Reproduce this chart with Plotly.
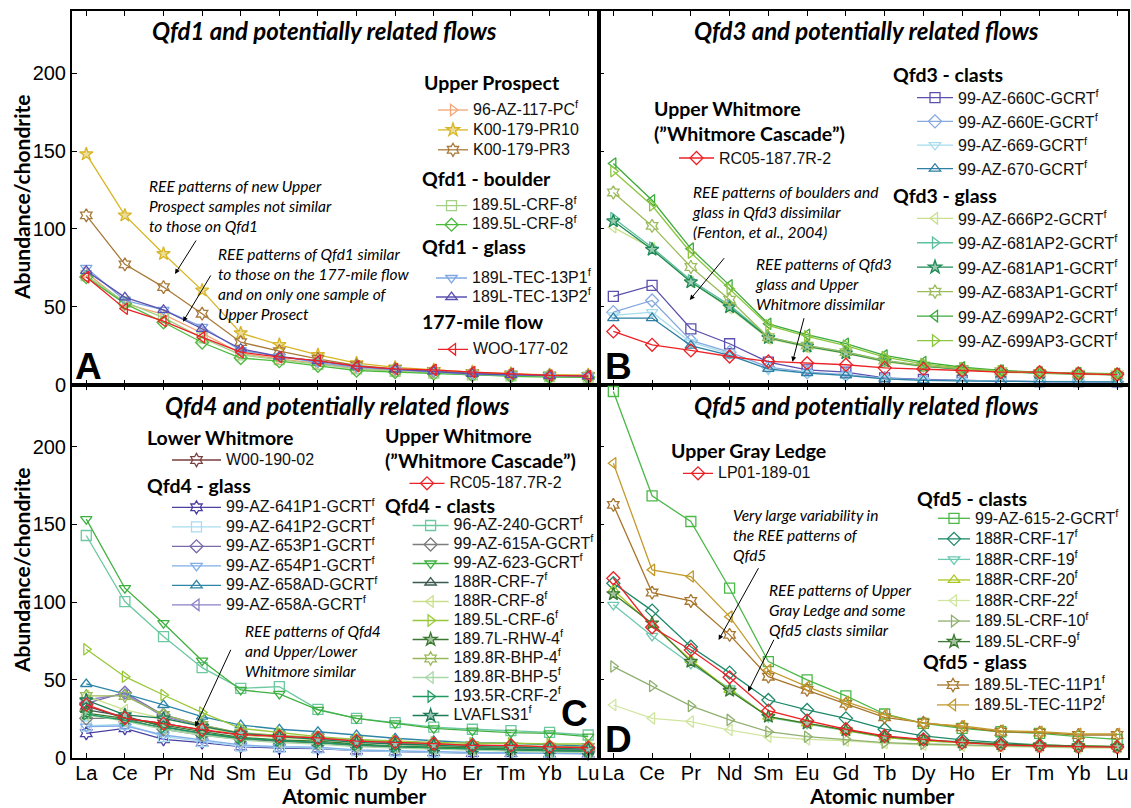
import plotly.graph_objects as go

W, H = 1131, 808

ELEMENTS = ["La", "Ce", "Pr", "Nd", "Sm", "Eu", "Gd", "Tb", "Dy", "Ho", "Er", "Tm", "Yb", "Lu"]
Y_TICKS = [0, 50, 100, 150, 200]

# ---- Qfd1 panel ----
AZ117_PC = [72, 52, 45, 33, 20, 16.5, 13.5, 10.5, 9, 7.8, 6.5, 6, 5.5, 5.5]
K00_PR10 = [148, 108.7, 84, 60.5, 33, 25.5, 19, 13.7, 11, 9.4, 8, 6.9, 6.2, 6.2]
K00_PR3 = [108.7, 77.2, 62.6, 45.5, 27.2, 21.4, 16.5, 12.2, 10, 8.6, 7.3, 6.5, 5.8, 5.5]
CRF8_A = [70, 53, 43, 30, 19, 16, 13, 10, 8.5, 7.3, 6.2, 5.5, 5, 4.8]
CRF8_B = [69, 52, 40, 27, 17, 15, 12, 9, 8, 7, 6, 5.3, 4.8, 4.6]
TEC13P1 = [75, 54, 48, 37, 22, 18, 14, 11, 9.5, 8, 6.6, 6, 5.5, 5.3]
TEC13P2 = [73, 56, 48, 35.8, 23, 18, 15, 11.6, 9.7, 8.4, 6.9, 6.2, 5.6, 5.4]
WOO_177 = [69, 48.7, 40.7, 30.4, 20.8, 17.6, 15.4, 11.8, 10, 9.4, 8, 6.9, 5.8, 5.4]

# ---- Qfd3 panel ----
RC05 = [34.1, 25.5, 21.9, 18, 14.8, 13.7, 12.7, 10.7, 10, 9, 7.9, 7.9, 6.9, 6.4]
AZ660C = [56.6, 63.7, 35.8, 26.2, 14.4, 9.4, 7.9, 4.3, 3.2, 2.6, 2.1, 1.9, 1.9, 1.7]
AZ660E = [46.5, 54, 28.3, 20.8, 11.1, 7.9, 6.4, 4.1, 3, 2.6, 2.1, 1.9, 1.9, 1.7]
AZ669 = [44.4, 46.5, 27.2, 19.7, 9.4, 7.3, 5.8, 3.6, 2.6, 2.1, 2, 2, 1.8, 1.8]
AZ670 = [42.7, 42.7, 25, 18.7, 10, 7.3, 5.8, 3.6, 2.6, 2.2, 2, 1.9, 1.8, 1.7]
AZ666P2 = [101, 87.5, 66, 49, 29.5, 24, 20, 14.6, 11.5, 9.5, 8, 7, 6.5, 6]
AZ681AP2 = [107, 88, 67, 51, 30.5, 25, 21, 15.5, 12, 10, 8.5, 7.4, 6.9, 6.4]
AZ681AP1 = [105, 86.7, 65.8, 49.7, 30, 24.5, 20.2, 15, 11.8, 9.7, 8.3, 7.3, 6.8, 6.2]
AZ683AP1 = [123.4, 101.9, 75.5, 54.5, 30.4, 25, 20.8, 15.4, 12.2, 10, 8.5, 7.5, 6.9, 6.4]
AZ699AP2 = [142, 118.4, 87.3, 63.7, 39, 32, 26.2, 18.7, 14.4, 11.1, 9, 7.9, 7.3, 6.9]
AZ699AP3 = [137, 115, 84.7, 61.6, 38, 31, 25, 17.6, 13.3, 10.5, 8.5, 7.7, 7.1, 6.7]

# ---- Qfd4 panel ----
W00_190 = [33.3, 25.3, 22.1, 17.8, 14.6, 13.5, 12.5, 10.9, 9.7, 8.8, 8, 7.5, 6.8, 6.8]
AZ641P1 = [15.7, 18.9, 11.8, 9.7, 7.1, 6.1, 5.8, 4.6, 4, 3.4, 3, 3, 2.6, 2.6]
AZ641P2 = [20.4, 21.5, 13.5, 10.3, 7.5, 6.8, 6.1, 4.6, 4, 3.4, 3, 3, 2.6, 2.6]
AZ653P1 = [35, 41.8, 27.5, 21, 15.7, 14, 12.5, 10.7, 8.8, 7.5, 6.8, 6.1, 5.5, 5]
AZ654P1 = [20, 20.4, 14.6, 11.4, 8.2, 7.1, 6.8, 5, 4.4, 3.6, 3.4, 3, 3, 2.6]
AZ658AD = [47.4, 41, 33.9, 26.4, 21, 18.3, 16.7, 14.6, 12.5, 10.9, 9.7, 9.3, 8.2, 7.5]
AZ658A = [37.1, 41, 26.4, 20.4, 15.7, 13.5, 12.5, 10.7, 8.8, 7.5, 6.8, 6.1, 5.5, 5]
AZ240 = [142.9, 100.4, 77.9, 57.9, 44.6, 45.7, 31.1, 25.3, 22.5, 19.6, 18.3, 17.4, 16.3, 14.6]
AZ615A = [25.3, 25.3, 18.3, 14.6, 11.8, 10.7, 9.3, 7.5, 6.8, 5.7, 5, 4.6, 4.2, 3.8]
AZ623 = [153.4, 109, 86.5, 62.4, 43.6, 41, 30.7, 25.3, 22.1, 18.9, 17.4, 16.1, 15.7, 13.5]
CRF7_188R = [30.7, 26.8, 20, 15.7, 12.5, 10.9, 9.7, 8.2, 7.1, 6.1, 5.5, 5, 4.6, 4]
CRF8_188R = [39.7, 30.7, 25.3, 20, 14.6, 13, 11.4, 9.9, 8.6, 7.5, 7.1, 6.8, 6.1, 5.9]
CRF6_1895L = [69.7, 52.1, 40.3, 29, 18.9, 16.1, 13.5, 11.8, 10.7, 9.9, 9.3, 9.3, 8.8, 8.8]
RHW4_1897L = [28.6, 25.3, 21, 16.7, 13.1, 11.4, 10.7, 8.8, 7.5, 6.8, 6.1, 5.5, 5, 4.6]
BHP4_1898R = [39.7, 39.7, 27.5, 21, 16, 14.6, 13.1, 11.4, 9.9, 8.8, 8.2, 7.5, 7.1, 6.8]
BHP5_1898R = [27.5, 23.5, 18.3, 14.6, 11.4, 9.7, 8.8, 7.1, 6.1, 5.5, 4.6, 4, 3.6, 3.4]
CRF2_1935R = [28, 24, 19.5, 15.7, 12.5, 10.9, 9.7, 8.2, 7.1, 6.3, 5.7, 5, 4.6, 4.2]
LVAFLS31 = [37, 27.5, 25.3, 20.1, 15.7, 13.5, 11.8, 9.9, 8.8, 8, 7.1, 6.8, 6.1, 5.5]

# ---- Qfd5 panel ----
LP01_189 = [115.4, 83.9, 69.3, 51.7, 30.2, 23.8, 18.3, 14, 11.8, 9.7, 8.2, 7.5, 7.1, 6.8]
AZ615_2 = [235.5, 168.4, 151.9, 109, 61.8, 50, 39.7, 28.1, 22.1, 18.9, 16.7, 15.7, 13.5, 11.8]
CRF17_188R = [112.2, 94.6, 71.4, 54.7, 37.1, 30.7, 25.3, 18.3, 14, 11.4, 9.7, 8.2, 7.5, 7.1]
CRF19_188R = [98.3, 78.3, 60.3, 44.6, 26, 21.7, 17.4, 13.1, 10.9, 9.7, 8.6, 8, 7.5, 7.1]
CRF20_188R = [107.9, 85.4, 62.9, 43.6, 26.4, 22.1, 17.4, 13.1, 10.9, 9.7, 8.6, 8, 7.5, 7.1]
CRF22_188R = [33.9, 25.3, 23.2, 17.8, 13.5, 11.8, 10.9, 9.3, 8.2, 7.5, 7.1, 6.8, 6.1, 6.1]
CRF10_1895L = [58.6, 46.1, 33.3, 24.3, 16.7, 13.5, 11.8, 9.7, 8.8, 8.2, 7.5, 7.1, 6.8, 6.8]
CRF9_1895L = [105.3, 86.5, 61.8, 43.1, 26.4, 22.1, 17.8, 13.5, 11.4, 9.9, 8.8, 8, 7.5, 7.1]
TEC11P1 = [162.6, 106.2, 100.8, 79, 52.1, 43.6, 34.6, 26, 22.5, 19.6, 16.7, 16.1, 14.6, 14.6]
TEC11P2 = [189.4, 120.8, 116.5, 90.7, 56.4, 45.7, 36, 27.5, 22.1, 20.4, 17.4, 16.7, 15.3, 15.3]

RED = "#ec2227"
F = "<sup>f</sup>"

# (label, values, colour, symbol, legend id, panel)
SERIES = [
    ("96-AZ-117-PC" + F, AZ117_PC, "#f2a678", "triangle-right-open", "legend", 1),
    ("K00-179-PR10", K00_PR10, "#d8b524", "star", "legend", 1),
    ("K00-179-PR3", K00_PR3, "#a87a3a", "hexagram-open", "legend", 1),
    ("189.5L-CRF-8" + F, CRF8_A, "#a3cf86", "square-open", "legend2", 1),
    ("189.5L-CRF-8" + F, CRF8_B, "#4dba3e", "diamond-open", "legend2", 1),
    ("189L-TEC-13P1" + F, TEC13P1, "#7fa8e2", "triangle-down-open", "legend3", 1),
    ("189L-TEC-13P2" + F, TEC13P2, "#5a50b0", "triangle-up-open", "legend3", 1),
    ("WOO-177-02", WOO_177, RED, "triangle-left-open", "legend4", 1),

    ("99-AZ-660C-GCRT" + F, AZ660C, "#5b50ad", "square-open", "legend6", 2),
    ("99-AZ-660E-GCRT" + F, AZ660E, "#86a9de", "diamond-open", "legend6", 2),
    ("99-AZ-669-GCRT" + F, AZ669, "#a6dcee", "triangle-down-open", "legend6", 2),
    ("99-AZ-670-GCRT" + F, AZ670, "#2e7fa3", "triangle-up-open", "legend6", 2),
    ("99-AZ-666P2-GCRT" + F, AZ666P2, "#c9e08c", "triangle-left-open", "legend7", 2),
    ("99-AZ-681AP2-GCRT" + F, AZ681AP2, "#5fbf9f", "triangle-right-open", "legend7", 2),
    ("99-AZ-681AP1-GCRT" + F, AZ681AP1, "#1f8a55", "star", "legend7", 2),
    ("99-AZ-683AP1-GCRT" + F, AZ683AP1, "#9cbb5c", "hexagram-open", "legend7", 2),
    ("99-AZ-699AP2-GCRT" + F, AZ699AP2, "#3caa3c", "triangle-left-open", "legend7", 2),
    ("99-AZ-699AP3-GCRT" + F, AZ699AP3, "#8cc63f", "triangle-right-open", "legend7", 2),
    ("RC05-187.7R-2", RC05, RED, "diamond-open", "legend5", 2),

    ("W00-190-02", W00_190, "#7a3e3e", "hexagram-open", "legend8", 3),
    ("99-AZ-641P1-GCRT" + F, AZ641P1, "#4b40a2", "hexagram-open", "legend9", 3),
    ("99-AZ-641P2-GCRT" + F, AZ641P2, "#a8dcf0", "square-open", "legend9", 3),
    ("99-AZ-653P1-GCRT" + F, AZ653P1, "#7a6aa8", "diamond-open", "legend9", 3),
    ("99-AZ-654P1-GCRT" + F, AZ654P1, "#80aee8", "triangle-down-open", "legend9", 3),
    ("99-AZ-658AD-GCRT" + F, AZ658AD, "#2d86a8", "triangle-up-open", "legend9", 3),
    ("99-AZ-658A-GCRT" + F, AZ658A, "#8a80c8", "triangle-left-open", "legend9", 3),
    ("96-AZ-240-GCRT" + F, AZ240, "#6cc8a0", "square-open", "legend11", 3),
    ("99-AZ-615A-GCRT" + F, AZ615A, "#7d7d7d", "diamond-open", "legend11", 3),
    ("99-AZ-623-GCRT" + F, AZ623, "#3fb040", "triangle-down-open", "legend11", 3),
    ("188R-CRF-7" + F, CRF7_188R, "#3b5a50", "triangle-up-open", "legend11", 3),
    ("188R-CRF-8" + F, CRF8_188R, "#c8e08a", "triangle-left-open", "legend11", 3),
    ("189.5L-CRF-6" + F, CRF6_1895L, "#98c83a", "triangle-right-open", "legend11", 3),
    ("189.7L-RHW-4" + F, RHW4_1897L, "#3a7a30", "star", "legend11", 3),
    ("189.8R-BHP-4" + F, BHP4_1898R, "#98b858", "hexagram-open", "legend11", 3),
    ("189.8R-BHP-5" + F, BHP5_1898R, "#a8d8a8", "triangle-left-open", "legend11", 3),
    ("193.5R-CRF-2" + F, CRF2_1935R, "#1e9a60", "triangle-right-open", "legend11", 3),
    ("LVAFLS31" + F, LVAFLS31, "#1e7a58", "star", "legend11", 3),
    ("RC05-187.7R-2", RC05, RED, "diamond-open", "legend10", 3),

    ("99-AZ-615-2-GCRT" + F, AZ615_2, "#4cb848", "square-open", "legend13", 4),
    ("188R-CRF-17" + F, CRF17_188R, "#1e8a6a", "diamond-open", "legend13", 4),
    ("188R-CRF-19" + F, CRF19_188R, "#6cc8b0", "triangle-down-open", "legend13", 4),
    ("188R-CRF-20" + F, CRF20_188R, "#a8c820", "triangle-up-open", "legend13", 4),
    ("188R-CRF-22" + F, CRF22_188R, "#d0e6a0", "triangle-left-open", "legend13", 4),
    ("189.5L-CRF-10" + F, CRF10_1895L, "#90b070", "triangle-right-open", "legend13", 4),
    ("189.5L-CRF-9" + F, CRF9_1895L, "#3a7a30", "star", "legend13", 4),
    ("189.5L-TEC-11P1" + F, TEC11P1, "#a8762e", "hexagram-open", "legend14", 4),
    ("189.5L-TEC-11P2" + F, TEC11P2, "#c29a2c", "triangle-left-open", "legend14", 4),
    ("LP01-189-01", LP01_189, RED, "diamond-open", "legend12", 4),
]


def fx(px):
    return px / W


def fy(py):
    return 1 - py / H


def tint(hex_colour, amount=0.55):
    """Blend a colour toward white (used for the inside of star symbols)."""
    r, g, b = (int(hex_colour[i:i + 2], 16) for i in (1, 3, 5))
    mix = lambda c: int(c + (255 - c) * amount)
    return "#%02x%02x%02x" % (mix(r), mix(g), mix(b))


# legend id -> (sample line start px, first item centre px, spacing font size, itemwidth)
LEGENDS = {
    "legend": (438, 110, 13, 30),
    "legend2": (436, 205.7, 12, 31),
    "legend3": (436, 278, 12, 31),
    "legend4": (438, 349.3, 13, 30),
    "legend5": (679, 158, 16, 35),
    "legend6": (917, 97.7, 15.9, 36),
    "legend7": (917, 218.3, 16.5, 36),
    "legend8": (172, 460, 12.7, 49),
    "legend9": (172, 507.3, 12.7, 49),
    "legend10": (409.5, 483.3, 13, 35),
    "legend11": (412.6, 525.5, 12, 36),
    "legend12": (683, 473.3, 13, 30),
    "legend13": (938, 518.3, 13.5, 32),
    "legend14": (937, 685, 13, 32),
}

AXES = {1: ("x", "y"), 2: ("x2", "y2"), 3: ("x3", "y3"), 4: ("x4", "y4")}

fig = go.Figure()
for label, vals, color, symbol, leg, panel in SERIES:
    xa, ya = AXES[panel]
    fill = tint(color) if symbol == "star" else color
    fig.add_trace(go.Scatter(
        x=list(range(len(ELEMENTS))), y=vals, mode="lines+markers",
        name='<span style="font-size:16px">' + label + "</span>",
        legend=leg, xaxis=xa, yaxis=ya,
        line=dict(color=color, width=1.3),
        marker=dict(symbol=symbol, size=10, color=fill, line=dict(color=color, width=1.3)),
        cliponaxis=False,
    ))

layout_legends = {}
for leg, (sx, cy, fs, iw) in LEGENDS.items():
    h = max(fs * 1.3, 16) + 3
    layout_legends[leg] = dict(
        x=fx(sx - 5), y=fy(cy - 5 - h / 2), xanchor="left", yanchor="top",
        xref="paper", yref="paper",
        bgcolor="rgba(0,0,0,0)", borderwidth=0, itemwidth=iw,
        font=dict(family="Liberation Sans, Arial", size=fs, color="#111"),
        tracegroupgap=0,
    )

LEFT, MID, RIGHT = 72, 599, 1128
TOP, ROWSPLIT, BOTTOM = 11, 384.5, 757.7
XRANGE = [-0.37, 13.28]
YRANGE = [0, 240]
TXT = "Lato, Liberation Sans"

axis_common = dict(showgrid=False, zeroline=False, showline=True, linecolor="black",
                   linewidth=2, ticks="inside", ticklen=5, tickcolor="black", tickwidth=1,
                   automargin=False)

xdom_left = [fx(LEFT), fx(MID)]
xdom_right = [fx(MID), fx(RIGHT)]
ydom_top = [fy(ROWSPLIT), fy(TOP)]
ydom_bot = [fy(BOTTOM), fy(ROWSPLIT)]

tickfont = dict(family="Liberation Sans, Arial", size=20, color="black")
# leading no-break spaces nudge the centred axis title to the right
XTITLE = "&nbsp;" * 7 + "<b>Atomic number</b>"

for i, (xd, yd, showx, showy) in enumerate([
        (xdom_left, ydom_top, False, True),
        (xdom_right, ydom_top, False, False),
        (xdom_left, ydom_bot, True, True),
        (xdom_right, ydom_bot, True, False)], start=1):
    sfx = "" if i == 1 else str(i)
    xaxis = dict(
        axis_common, domain=xd, anchor="y" + sfx, range=XRANGE, mirror="ticks",
        tickvals=list(range(len(ELEMENTS))), ticktext=ELEMENTS,
        showticklabels=showx, tickfont=tickfont, ticklabelstandoff=-4,
    )
    if showx:
        xaxis["title"] = dict(text=XTITLE, font=dict(family=TXT, size=21, color="black"))
    fig.layout["xaxis" + sfx] = xaxis
    fig.layout["yaxis" + sfx] = dict(
        axis_common, domain=yd, anchor="x" + sfx, range=YRANGE, mirror=True,
        tickvals=Y_TICKS, showticklabels=showy, tickfont=tickfont,
    )

ann = []


def text(x, y, s, size, bold=False, italic=False, xanchor="left", yanchor="middle",
         family=TXT, angle=0):
    if bold:
        s = "<b>" + s + "</b>"
    if italic:
        s = "<i>" + s + "</i>"
    ann.append(dict(x=fx(x), y=fy(y), xref="paper", yref="paper", text=s, showarrow=False,
                    xanchor=xanchor, yanchor=yanchor, align="left", textangle=angle,
                    font=dict(family=family, size=size, color="black")))


def arrow(tail, tip):
    ann.append(dict(x=fx(tip[0]), y=fy(tip[1]), xref="paper", yref="paper", text="",
                    showarrow=True, ax=tail[0] - tip[0], ay=tail[1] - tip[1],
                    arrowhead=2, arrowsize=1, arrowwidth=1, arrowcolor="black", standoff=0))


# panel titles
for cx, cy, t in [(324, 30, "Qfd1 and potentially related flows"),
                  (866, 30, "Qfd3 and potentially related flows"),
                  (337, 405, "Qfd4 and potentially related flows"),
                  (866, 405, "Qfd5 and potentially related flows")]:
    text(cx, cy, t, 24, bold=True, italic=True, xanchor="center")

# panel letters
for cx, cy, t in [(88, 366.5, "A"), (618.5, 366.5, "B"), (574.5, 713.5, "C"), (618.5, 739.5, "D")]:
    text(cx, cy, t, 37, bold=True, xanchor="center", family="Liberation Sans, Arial")

# legend group headers
for x, y, t in [(422, 83, "Upper Prospect"), (420, 178.3, "Qfd1 - boulder"),
                (420, 247, "Qfd1 - glass"), (420, 321.7, "177-mile flow"),
                (652, 121, "Upper Whitmore<br>(”Whitmore Cascade”)"),
                (891, 75, "Qfd3 - clasts"), (891, 195, "Qfd3 - glass"),
                (145, 437.7, "Lower Whitmore"), (145, 485, "Qfd4 - glass"),
                (383, 448, "Upper Whitmore<br>(”Whitmore Cascade”)"),
                (383, 505, "Qfd4 - clasts"),
                (669, 450, "Upper Gray Ledge"), (915, 498.3, "Qfd5 - clasts"),
                (921, 661.7, "Qfd5 - glass")]:
    text(x, y, t, 19.5, bold=True)

# notes
for x, y, t in [
        (147, 175, "REE patterns of new Upper<br>Prospect samples not similar<br>to those on Qfd1"),
        (216, 243, "REE patterns of Qfd1 similar<br>to those on the 177-mile flow<br>and on only one sample of<br>Upper Prosect"),
        (690, 181, "REE patterns of boulders and<br>glass in Qfd3 dissimilar<br>(Fenton, et al., 2004)"),
        (753, 253, "REE patterns of Qfd3<br>glass and Upper<br>Whitmore dissimilar"),
        (243, 620, "REE patterns of Qfd4<br>and Upper/Lower<br>Whitmore similar"),
        (731, 504, "Very large variability in<br>the REE patterns of<br>Qfd5"),
        (767, 579, "REE patterns of Upper<br>Gray Ledge and some<br>Qfd5 clasts similar")]:
    text(x, y, t, 15.5, italic=True, yanchor="top")

for tail, tip in [((197, 239), (175, 274)), ((211.6, 274), (183, 321.7)),
                  ((725.4, 256.7), (689.8, 300)), ((804.4, 316.7), (792.5, 361.7)),
                  ((231.5, 648.3), (195.2, 726.7)),
                  ((759.3, 566.7), (718.6, 640)), ((774.6, 638.3), (748.1, 691.7))]:
    arrow(tail, tip)

# y-axis titles
text(21, 198, "Abundance/chondrite", 21, bold=True, xanchor="center", angle=-90)
text(21, 571, "Abundance/chondrite", 21, bold=True, xanchor="center", angle=-90)

fig.update_layout(
    width=W, height=H, margin=dict(l=0, r=0, t=0, b=0),
    paper_bgcolor="white", plot_bgcolor="white",
    showlegend=True, annotations=ann, **layout_legends,
)

fig.write_html("out.html")
